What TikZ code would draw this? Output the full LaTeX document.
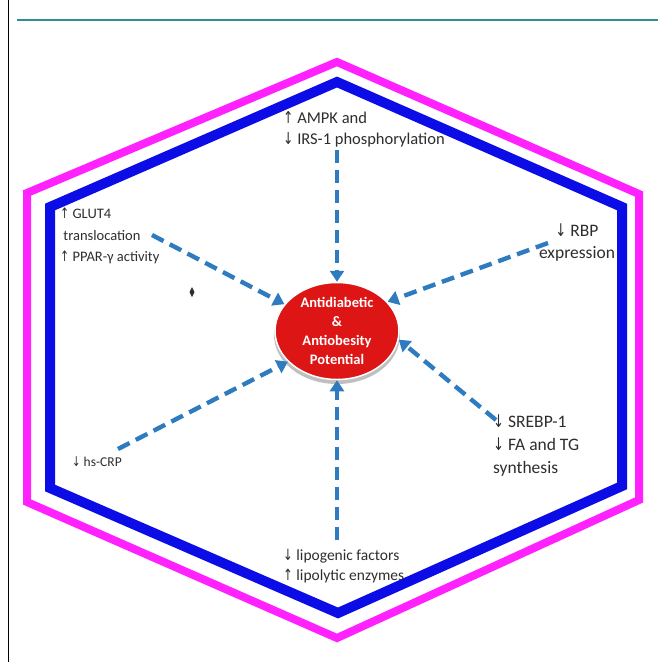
\documentclass[tikz,border=0pt]{standalone}
\usepackage{fontspec}
\setmainfont{Carlito}
\newfontfamily\arrowfont{DejaVu Sans}
\usetikzlibrary{arrows.meta,shapes.geometric}
\definecolor{hexmag}{HTML}{FF22FF}
\definecolor{hexblue}{HTML}{0C0CE6}
\definecolor{arrcol}{HTML}{2E7BBF}
\definecolor{txtcol}{HTML}{2E2E2E}
\definecolor{tealline}{HTML}{2F8F95}
\definecolor{ellred}{HTML}{DD1515}
\newcommand{\uparr}{{\arrowfont\scalebox{0.75}[1]{\char"2191}}}
\newcommand{\dnarr}{{\arrowfont\scalebox{0.75}[1]{\char"2193}}}
\begin{document}
\begin{tikzpicture}[x=1pt,y=-1pt,
  lbl/.style={text=txtcol, align=left, inner sep=0pt},
  conn/.style={arrcol, line width=4.4pt, dash pattern=on 13pt off 7pt,
    -{Triangle[length=11pt,width=14pt]}},
  hexline/.style={line join=miter}]
\useasboundingbox (0,0) rectangle (658,662);
\fill[white] (0,0) rectangle (658,662);
\draw[black, line width=0.8pt] (8,0) -- (8,662);
\draw[tealline, line width=1.3pt] (17,20) -- (658,20);

% hexagons
\draw[hexline, hexmag, line width=8pt] (337,62) -- (639,194) -- (639,500) -- (337,638) -- (27,502) -- (27,193) -- cycle;
\draw[hexline, hexblue, line width=10pt] (337,82) -- (622,207) -- (622,486) -- (338,613) -- (50,488) -- (50,207) -- cycle;

% centre
\fill[black!25] (337,335) ellipse [x radius=63pt, y radius=49pt];
\node[ellipse, fill=ellred, draw=white, line width=1.5pt, minimum width=124pt, minimum height=97pt,
  inner sep=0pt, text=white, align=center, font=\bfseries\fontsize{14.5}{18.8}\selectfont] (c) at (337,331)
  {Antidiabetic\\\&\\Antiobesity\\Potential};

% labels
\node[lbl, anchor=north west, font=\fontsize{16.5}{21}\selectfont] (ampk) at (283,111)
  {\uparr\ AMPK and\\\dnarr\ IRS-1 phosphorylation};
\node[lbl, anchor=north west, font=\fontsize{14.5}{21.5}\selectfont] (glut) at (60,208)
  {\uparr\ GLUT4\\\ translocation\\\uparr\ PPAR-\char"03B3\ activity};
\node[lbl, align=center, anchor=north, font=\fontsize{17.5}{21.5}\selectfont] (rbp) at (577,224)
  {\dnarr\ RBP\\expression};
\node[lbl, anchor=north west, font=\fontsize{17.5}{23}\selectfont] (srebp) at (493,415)
  {\dnarr\ SREBP-1\\\dnarr\ FA and TG\\synthesis};
\node[lbl, anchor=west, font=\fontsize{13.5}{16}\selectfont] (crp) at (72,462) {\dnarr\ hs-CRP};
\node[lbl, anchor=north west, font=\fontsize{15.5}{19.5}\selectfont] (lipo) at (283,549)
  {\dnarr\ lipogenic factors\\\uparr\ lipolytic enzymes};

% stray mark
\fill[txtcol] (192,287) -- (194.5,292) -- (192,297) -- (189.5,292) -- cycle;

% connectors
\coordinate (t1) at (337,150);
\coordinate (t2) at (152,235);
\coordinate (t3) at (548,243);
\coordinate (t4) at (496,420);
\coordinate (t5) at (118,449);
\coordinate (t6) at (337,540);
\draw[conn] (t1) -- (c.north);
\draw[conn] (t2) -- (c.153);
\draw[conn] (t3) -- (c.30);
\draw[conn] (t4) -- (c.-8);
\draw[conn] (t5) -- (c.212);
\draw[conn] (t6) -- (c.south);
\end{tikzpicture}
\end{document}
